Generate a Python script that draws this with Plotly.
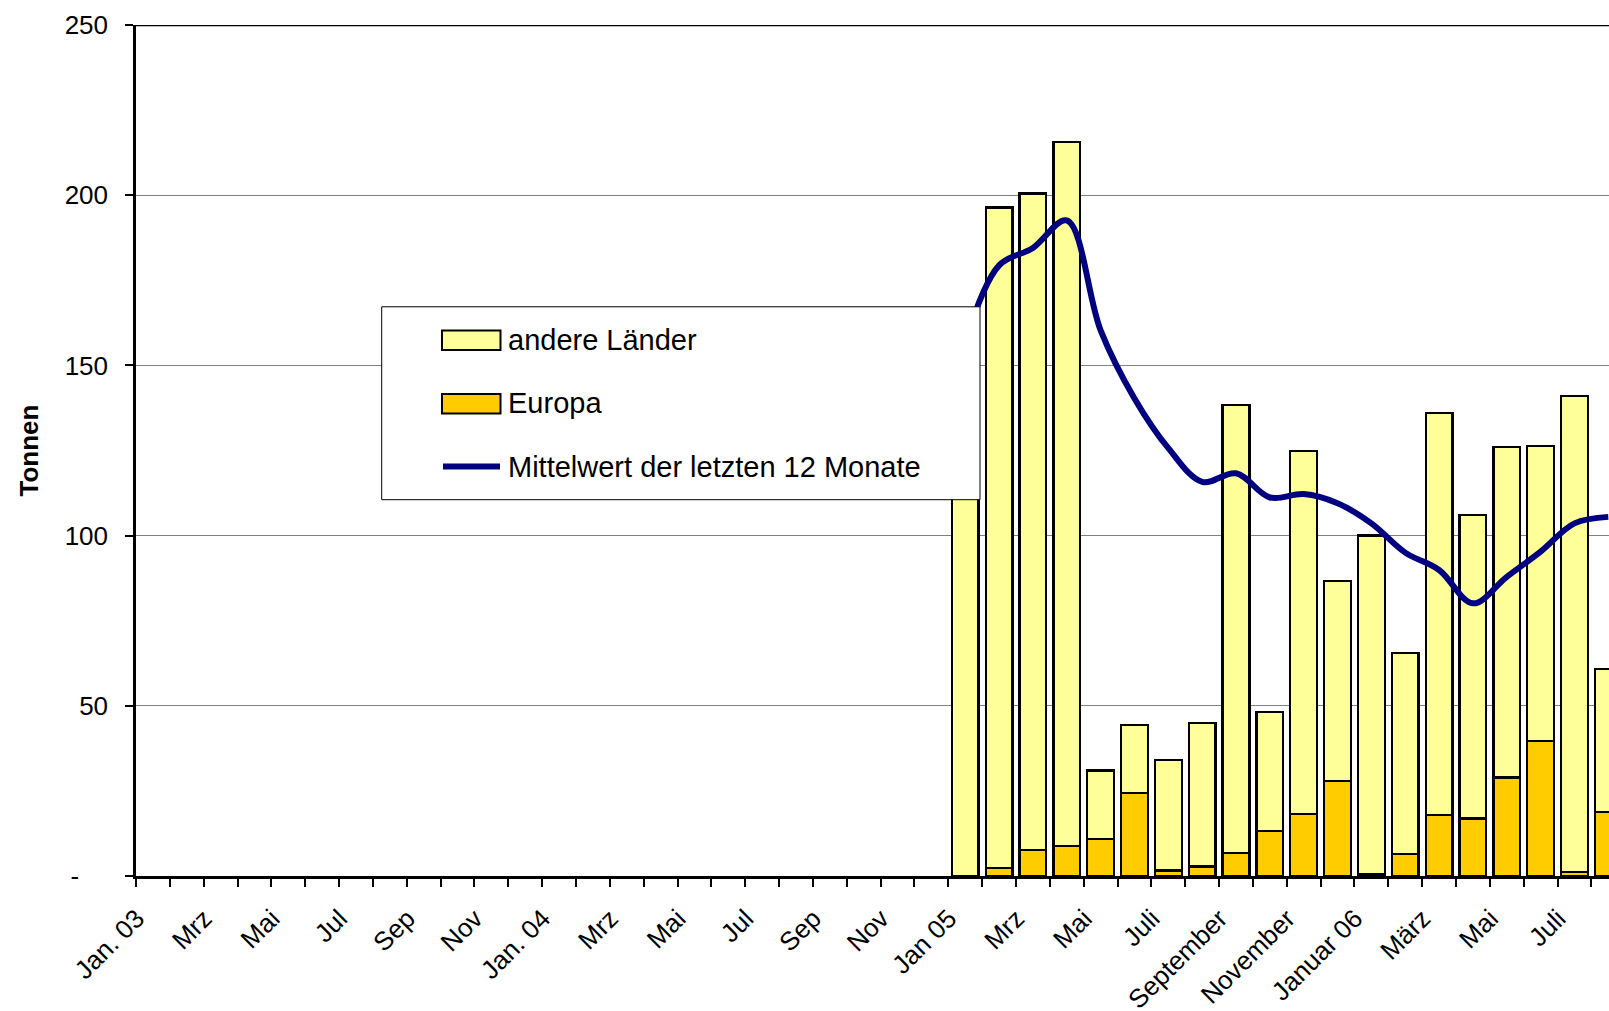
import plotly.graph_objects as go

# ---------------- data ----------------
months = ["Jan. 03", "Feb", "Mrz", "Apr", "Mai", "Jun", "Jul", "Aug", "Sep", "Okt", "Nov", "Dez",
          "Jan. 04", "Feb", "Mrz", "Apr", "Mai", "Jun", "Jul", "Aug", "Sep", "Okt", "Nov", "Dez",
          "Jan 05", "Februar", "Mrz", "April", "Mai", "Juni", "Juli", "August", "September",
          "Oktober", "November", "Dezember",
          "Januar 06", "Februar", "März", "April", "Mai", "Juni", "Juli", "August"]

empty = [None] * 24
europa = empty + [0, 2.4, 7.7, 8.8, 10.9, 24.4, 1.6, 2.8, 6.8, 13.3, 18.3, 28.0,
                  0.6, 6.4, 18.0, 16.9, 28.9, 39.6, 1.1, 18.9]
andere = empty + [150, 194.0, 192.8, 206.8, 20.1, 19.9, 32.4, 42.1, 131.5, 34.9, 106.6, 58.6,
                  99.4, 59.2, 118.1, 89.1, 97.2, 86.8, 139.9, 41.9]
mittel = empty + [157, 179.4, 184.5, 192.6, 160.3, 140.3, 125.7, 115.8, 118.3, 111.2, 112.2, 109.5,
                  103.6, 95.0, 89.9, 80.1, 87.9, 95.3, 103.6, 105.5]

y_ticks = [0, 50, 100, 150, 200, 250]
y_tick_text = ["-\u00a0\u00a0\u00a0\u00a0", "50", "100", "150", "200", "250"]

legend_names = ["andere Länder", "Europa", "Mittelwert der letzten 12 Monate"]

# ---------------- styling ----------------
FONT = "Liberation Sans, Arial, sans-serif"
C_ANDERE = "#FFFF99"
C_EUROPA = "#FFCC00"
C_LINE = "#000080"

W, H = 1609, 1011
L, T, B, R = 136, 25, 135, 0
PW, PH = W - L - R, H - T - B
X_RANGE = [-0.5, 43.02]
LABEL_SHIFT = 0.48   # rotated month labels sit left of the category centre


def px(X):
    return (X - L) / PW


def py(Y):
    return (H - B - Y) / PH


x = list(range(len(months)))

fig = go.Figure()
fig.add_trace(go.Bar(x=x, y=europa, name=legend_names[1],
                     marker=dict(color=C_EUROPA, line=dict(color="black", width=2.3)),
                     showlegend=False))
fig.add_trace(go.Bar(x=x, y=andere, name=legend_names[0],
                     marker=dict(color=C_ANDERE, line=dict(color="black", width=2.3)),
                     showlegend=False))
fig.add_trace(go.Scatter(x=x, y=mittel, name=legend_names[2], mode="lines",
                         line=dict(color=C_LINE, width=6, shape="spline", smoothing=1.0),
                         connectgaps=False, showlegend=False))
# carrier for the label axis (draws nothing)
fig.add_trace(go.Scatter(x=x, y=[None] * len(x), xaxis="x2", mode="lines",
                         showlegend=False, hoverinfo="skip"))

shapes = [
    dict(type="line", xref="paper", yref="y", x0=0, x1=1, y0=250, y1=250,
         line=dict(color="black", width=2.5), layer="above"),
    dict(type="rect", xref="paper", yref="paper", x0=px(381.7), x1=px(980), y0=py(499.7), y1=py(306.8),
         fillcolor="white", line=dict(color="black", width=1), layer="above"),
    dict(type="rect", xref="paper", yref="paper", x0=px(442), x1=px(500.5), y0=py(350), y1=py(330.5),
         fillcolor=C_ANDERE, line=dict(color="black", width=2), layer="above"),
    dict(type="rect", xref="paper", yref="paper", x0=px(442), x1=px(500.5), y0=py(413.5), y1=py(394),
         fillcolor=C_EUROPA, line=dict(color="black", width=2), layer="above"),
    dict(type="line", xref="paper", yref="paper", x0=px(443), x1=px(500), y0=py(466.5), y1=py(466.5),
         line=dict(color=C_LINE, width=6), layer="above"),
]

annotations = [
    dict(text=legend_names[0], xref="paper", yref="paper", x=px(506), y=py(339.7), xanchor="left", yanchor="middle",
         showarrow=False, font=dict(family=FONT, size=29, color="black")),
    dict(text=legend_names[1], xref="paper", yref="paper", x=px(506), y=py(403.3), xanchor="left", yanchor="middle",
         showarrow=False, font=dict(family=FONT, size=29, color="black")),
    dict(text=legend_names[2], xref="paper", yref="paper", x=px(506), y=py(467), xanchor="left", yanchor="middle",
         showarrow=False, font=dict(family=FONT, size=29, color="black")),
    dict(text="<b>Tonnen</b>", xref="paper", yref="paper", x=px(28), y=0.5, xanchor="center", yanchor="middle",
         textangle=-90, showarrow=False, font=dict(family=FONT, size=26, color="black")),
]

fig.update_layout(
    width=W, height=H,
    margin=dict(l=L, r=R, t=T, b=B, pad=0, autoexpand=False),
    barmode="stack", bargap=0.21,
    plot_bgcolor="white", paper_bgcolor="white",
    font=dict(family=FONT, size=26, color="black"),
    shapes=shapes, annotations=annotations,
    xaxis=dict(
        range=X_RANGE, automargin=False,
        showticklabels=False, ticks="",
        showgrid=False, zeroline=False,
        showline=True, linecolor="black", linewidth=2.5,
        minor=dict(tickmode="linear", tick0=-0.5, dtick=1, ticks="outside", ticklen=8,
                   tickwidth=2, tickcolor="black", showgrid=False),
    ),
    xaxis2=dict(
        overlaying="x", side="bottom", anchor="y", automargin=False,
        range=[X_RANGE[0] + LABEL_SHIFT, X_RANGE[1] + LABEL_SHIFT],
        tickmode="array", tickvals=x[::2], ticktext=months[::2],
        tickangle=-45, ticks="outside", ticklen=8, tickcolor="rgba(0,0,0,0)",
        ticklabelstandoff=8,
        showgrid=False, zeroline=False, showline=False,
        tickfont=dict(family=FONT, size=26, color="black"),
    ),
    yaxis=dict(
        range=[0, 250], automargin=False,
        tickmode="array", tickvals=y_ticks, ticktext=y_tick_text,
        ticks="outside", ticklen=8, tickwidth=2, tickcolor="black",
        showgrid=True, gridcolor="#808080", gridwidth=1.3,
        zeroline=False,
        showline=True, linecolor="black", linewidth=2.5,
        tickfont=dict(family=FONT, size=26, color="black"),
        ticklabelstandoff=12,
    ),
)

fig.write_html("out.html", config={"displayModeBar": False},
               post_script="document.body.style.margin='0';")
